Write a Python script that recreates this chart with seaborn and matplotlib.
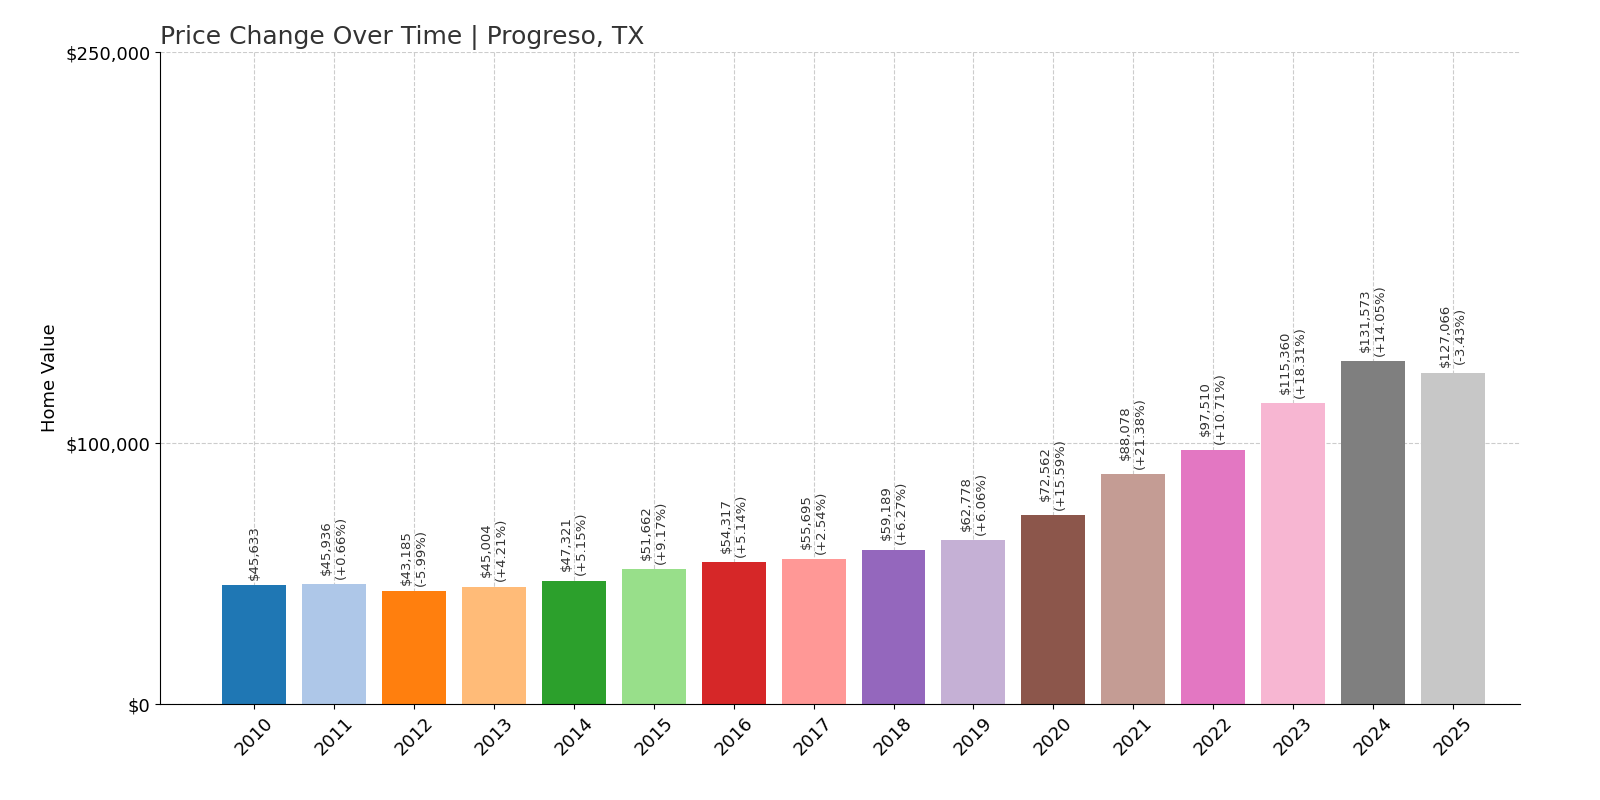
import matplotlib
matplotlib.use("Agg")
import matplotlib.pyplot as plt
import seaborn as sns
import pandas as pd

years = ["2010","2011","2012","2013","2014","2015","2016","2017","2018","2019","2020","2021","2022","2023","2024","2025"]
values = [45633,45936,43185,45004,47321,51662,54317,55695,59189,62778,72562,88078,97510,115360,131573,127066]
changes = [None,"+0.66%","-5.99%","+4.21%","+5.15%","+9.17%","+5.14%","+2.54%","+6.27%","+6.06%","+15.59%","+21.38%","+10.71%","+18.31%","+14.05%","-3.43%"]
yticks = [0, 100000, 250000]
ytick_labels = ["$0", "$100,000", "$250,000"]

df = pd.DataFrame({"year": years, "value": values})
colors = sns.color_palette("tab20", 16)

fig, ax = plt.subplots(figsize=(16, 8), dpi=100)
fig.subplots_adjust(left=0.1, right=0.95, top=0.935, bottom=0.12)
ax.set_axisbelow(True)
sns.barplot(data=df, x="year", y="value", hue="year", palette=colors, legend=False, ax=ax, width=0.8, saturation=1)
ax.grid(True, axis="both", linestyle="--", color="#cccccc", linewidth=0.8)
ax.set_xlim(-1.18, 15.84)
ax.set_ylim(0, 250000)
ax.set_yticks(yticks)
ax.set_yticklabels(ytick_labels, fontsize=13)
ax.tick_params(axis="x", labelrotation=45, labelsize=13)
ax.set_xlabel("")
ax.set_ylabel("Home Value", fontsize=13)
ax.set_title("Price Change Over Time | Progreso, TX", loc="left", fontsize=18, color="#333333")
for s in ["top", "right"]:
    ax.spines[s].set_visible(False)
for i, (v, c) in enumerate(zip(values, changes)):
    txt = f"${v:,}" if c is None else f"${v:,}\n({c})"
    ax.text(i, v + 2000, txt, rotation=90, ha="center", va="bottom", fontsize=9.5, color="#333333")
fig.savefig("out.png")
